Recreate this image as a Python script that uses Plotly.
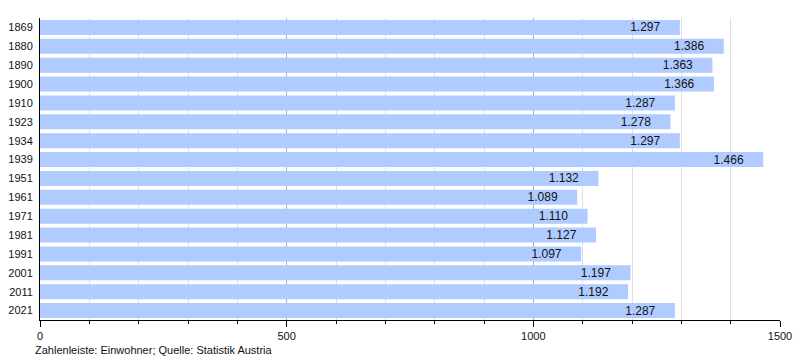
import plotly.graph_objects as go

years = ["1869", "1880", "1890", "1900", "1910", "1923", "1934", "1939",
         "1951", "1961", "1971", "1981", "1991", "2001", "2011", "2021"]
population = [1297, 1386, 1363, 1366, 1287, 1278, 1297, 1466,
              1132, 1089, 1110, 1127, 1097, 1197, 1192, 1287]
x_ticks = [0, 500, 1000, 1500]
footer = "Zahlenleiste: Einwohner; Quelle: Statistik Austria"

fig = go.Figure(go.Bar(
    x=population, y=years, orientation="h",
    marker=dict(color="#b0cbff", line=dict(width=0)),
    texttemplate="%{x:,}\u00a0\u00a0\u00a0\u00a0\u00a0", textposition="inside",
    insidetextanchor="end",
    textangle=0, constraintext="none",
    insidetextfont=dict(color="#111111", size=12, family="Liberation Sans, Arial"),
    hoverinfo="skip",
))

fig.update_layout(
    width=800, height=360,
    margin=dict(l=40, r=20, t=18, b=40),
    plot_bgcolor="white", paper_bgcolor="white",
    separators=",.",
    bargap=0.2,
    showlegend=False,
    font=dict(family="Liberation Sans, Arial", size=11, color="#111111"),
    xaxis=dict(
        range=[0, 1500], tickvals=x_ticks, ticktext=[str(t) for t in x_ticks],
        showgrid=True, gridcolor="#b0b0b0", gridwidth=1,
        ticks="outside", ticklen=6, tickcolor="black",
        showline=True, linecolor="black", linewidth=1,
        zeroline=False, automargin=False,
        minor=dict(dtick=100, showgrid=True, gridcolor="#e0e0e0",
                   ticks="outside", ticklen=3, tickcolor="black"),
        tickfont=dict(size=11, color="#111111"),
    ),
    yaxis=dict(
        autorange="reversed", type="category",
        showline=True, linecolor="black", linewidth=1,
        ticks="", showgrid=False, tickfont=dict(size=11, color="#111111"),
        ticklabelstandoff=4, automargin=False,
    ),
    annotations=[dict(text=footer, xref="paper", yref="paper", x=-0.009, y=-0.072,
                      xanchor="left", yanchor="top", showarrow=False,
                      font=dict(size=11, color="#111111"))],
)

fig.write_html("out.html", config={"displayModeBar": False},
               post_script="document.body.style.margin='0';")
